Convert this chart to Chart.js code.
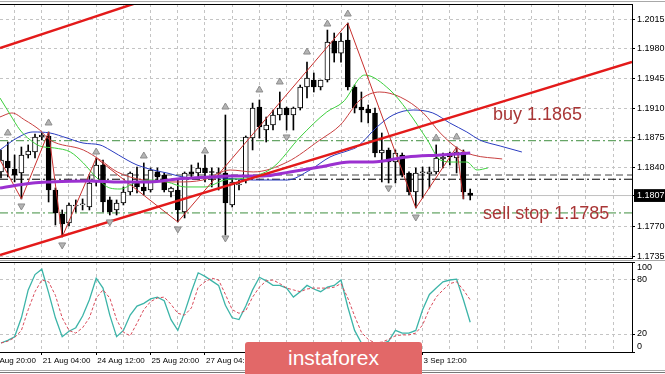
<!DOCTYPE html>
<html>
<head>
<meta charset="utf-8">
<script src="https://cdn.jsdelivr.net/npm/chart.js@4.4.1/dist/chart.umd.min.js"></script>
<style>
  html, body { margin: 0; padding: 0; background: #fff; }
  body { width: 665px; height: 374px; position: relative; overflow: hidden; }
  canvas { position: absolute; left: 0; }
  #priceChart { top: 0; }
  #stochChart { top: 258px; }
  .rule { position: absolute; left: 0; width: 665px; height: 1px; background: #a8a8a8; }
  #logo {
    position: absolute; left: 245px; top: 342px; width: 177px; height: 32px;
    background: #e26868; color: #fff; text-align: center;
    font: 21px "Liberation Sans", Arial, sans-serif; line-height: 32px;
    border-radius: 3px 3px 0 0;
  }
</style>
</head>
<body>
<div class="rule" style="top:1px"></div>
<div class="rule" style="top:260px"></div>
<div class="rule" style="top:370px"></div>
<div class="rule" style="top:372px;background:#777"></div>
<canvas id="priceChart" width="665" height="262"></canvas>
<canvas id="stochChart" width="665" height="116"></canvas>
<div id="logo">instaforex</div>
<script>
// H4 candles, index 0 = first visible bar
const opens = [1.18348, 1.18477, 1.18383, 1.18336, 1.18548, 1.18583, 1.1876, 1.18772, 1.18135, 1.17853,
  1.17747, 1.17947, 1.17959, 1.17935, 1.1823, 1.1843, 1.18018, 1.179, 1.17982, 1.18112,
  1.1823, 1.18171, 1.18135, 1.18348, 1.18312, 1.18112, 1.18135, 1.17876, 1.18348, 1.18336,
  1.18395, 1.18348, 1.18336, 1.18336, 1.17959, 1.18194, 1.18253, 1.18748, 1.19113, 1.18842,
  1.18901, 1.19019, 1.19101, 1.19019, 1.19101, 1.19349, 1.19431, 1.19349, 1.19431, 1.19891,
  1.19749, 1.19903, 1.19349, 1.19113, 1.1909, 1.19043, 1.18571, 1.18607, 1.18465, 1.18548,
  1.18336, 1.18112, 1.18336, 1.18324, 1.18348, 1.18501, 1.18571, 1.18512, 1.18583, 1.181];
const highs = [1.18607, 1.18701, 1.18548, 1.18642, 1.18666, 1.18795, 1.18807, 1.18819, 1.18159, 1.179,
  1.17982, 1.18018, 1.1803, 1.183, 1.18512, 1.18489, 1.18053, 1.18018, 1.18171, 1.18348,
  1.18406, 1.18454, 1.18395, 1.18395, 1.18336, 1.18171, 1.18253, 1.18348, 1.1843, 1.18454,
  1.18548, 1.18395, 1.18395, 1.19019, 1.18277, 1.18253, 1.18772, 1.1916, 1.19196, 1.18995,
  1.19078, 1.1929, 1.19113, 1.19113, 1.19372, 1.19643, 1.19514, 1.19431, 1.2002, 1.19985,
  1.19985, 1.20103, 1.19372, 1.1929, 1.19137, 1.19101, 1.18807, 1.1863, 1.18607, 1.18571,
  1.18348, 1.18395, 1.18406, 1.18406, 1.18666, 1.18571, 1.18583, 1.18642, 1.18607, 1.18147];
const lows = [1.18277, 1.18289, 1.1823, 1.1803, 1.18512, 1.18512, 1.18725, 1.17994, 1.17723, 1.17582,
  1.17711, 1.17876, 1.179, 1.179, 1.18183, 1.17876, 1.17841, 1.17841, 1.17959, 1.18077,
  1.181, 1.18077, 1.18112, 1.18253, 1.18112, 1.18053, 1.17759, 1.17806, 1.18289, 1.18289,
  1.1823, 1.18171, 1.18135, 1.17605, 1.17935, 1.18135, 1.18218, 1.18607, 1.18748, 1.18701,
  1.18842, 1.1896, 1.18842, 1.18842, 1.19078, 1.19219, 1.1929, 1.19314, 1.19408, 1.19643,
  1.19643, 1.19314, 1.19043, 1.18937, 1.18925, 1.18524, 1.1823, 1.18218, 1.18218, 1.18289,
  1.18077, 1.17923, 1.18041, 1.18159, 1.18324, 1.18395, 1.1843, 1.18336, 1.1803, 1.18018];
const closes = [1.18489, 1.18395, 1.18312, 1.18548, 1.18595, 1.1876, 1.18783, 1.18135, 1.17865, 1.17735,
  1.17959, 1.17959, 1.17971, 1.18218, 1.1843, 1.17994, 1.17876, 1.17982, 1.18112, 1.18336,
  1.18171, 1.18124, 1.18371, 1.18289, 1.18135, 1.18159, 1.179, 1.18336, 1.18324, 1.18395,
  1.18336, 1.18342, 1.1833, 1.17982, 1.1823, 1.18206, 1.1876, 1.19101, 1.18878, 1.18901,
  1.19019, 1.19101, 1.19019, 1.19101, 1.19349, 1.19455, 1.19349, 1.19431, 1.19879, 1.19749,
  1.19891, 1.19349, 1.19101, 1.19078, 1.19043, 1.18571, 1.18607, 1.18465, 1.18571, 1.18312,
  1.18112, 1.18336, 1.18348, 1.18348, 1.18512, 1.18524, 1.18524, 1.18583, 1.18112, 1.1807];

// Alligator lines (jaw / teeth / lips), read at bar positions
const jawX = [-0.15, 2.35, 4.7, 7.2, 9.7, 12.06, 14.56, 16.03, 18.53, 20, 22.35, 24.4, 26.76, 29.7, 32.2,
  37.06, 42.06, 45.44, 48.38, 51.32, 52.35, 55.3, 57.65, 60.6, 63.5, 66, 68.5, 70.4, 73.4, 76.6];
const jawY = [1.18607, 1.18748, 1.18819, 1.18807, 1.18748, 1.18689, 1.18666, 1.18607, 1.18489, 1.1843,
  1.18371, 1.18336, 1.18289, 1.18277, 1.18277, 1.18253, 1.18253, 1.18371, 1.18524, 1.18607,
  1.18642, 1.18878, 1.19019, 1.19078, 1.19043, 1.18925, 1.18819, 1.18725, 1.18654, 1.18583];
const teethX = [-0.15, 1.6, 3.5, 5.7, 7.2, 12.1, 14.6, 17.1, 20.9, 25.9, 29.7, 33.7, 37.1, 42.1, 46.9,
  49.9, 52.8, 55.7, 58.7, 62.1, 64.6, 67.1, 69.4, 73.7];
const teethY = [1.18996, 1.19043, 1.1896, 1.18842, 1.18725, 1.18607, 1.18489, 1.18348, 1.18253, 1.1823,
  1.18253, 1.18371, 1.18348, 1.18465, 1.18725, 1.18901, 1.19196, 1.1929, 1.19231, 1.19043,
  1.18807, 1.1863, 1.18548, 1.18501];
const lipsX = [-0.15, 1.3, 2.8, 4.3, 5.7, 7.9, 10.2, 12.1, 14.1, 16.0, 17.5, 19.7, 21.9, 24.4, 27.1, 30,
  32.9, 35.9, 39.9, 44, 47.9, 50.3, 53.5, 57.2, 59.7, 62.7, 64.6, 66.5, 68.5, 70, 71.6];
const lipsY = [1.19219, 1.19031, 1.18842, 1.18725, 1.18654, 1.1863, 1.18583, 1.18454, 1.18277, 1.18159,
  1.18147, 1.18218, 1.18253, 1.1823, 1.18171, 1.18171, 1.18253, 1.18277, 1.18395, 1.1876,
  1.19054, 1.19172, 1.1949, 1.19314, 1.19078, 1.18725, 1.18489, 1.18465, 1.18465, 1.18371, 1.18395];

// slow moving average (thick purple)
const maX = [-0.15, 4.7, 7.2, 13.1, 17.5, 21.9, 25.9, 30.7, 33.7, 38.5, 42.5, 46.9, 51.3, 54.7, 59.7, 64.6, 69];
const maY = [1.18159, 1.18218, 1.1823, 1.18242, 1.1823, 1.1823, 1.18265, 1.18289, 1.183, 1.183,
  1.18348, 1.18406, 1.18465, 1.18465, 1.18524, 1.18548, 1.18571];

// ZigZag swing points
const zzX = [-0.15, 3, 7, 9, 14, 26, 51, 61, 67, 68];
const zzY = [1.18489, 1.1803, 1.18819, 1.17582, 1.18512, 1.17759, 1.20103, 1.17923, 1.18642, 1.1803];

// fractal arrows
const fracUpX = [1, 7, 14, 21, 30, 33, 38, 41, 45, 48, 51, 64, 67];
const fracUpY = [1.18807, 1.18925, 1.18583, 1.18536, 1.18595, 1.19113, 1.19314, 1.19408, 1.19761, 1.20091, 1.20209, 1.18748, 1.1876];
const fracDnX = [3, 9, 16, 26, 33, 42, 57, 61];
const fracDnY = [1.17947, 1.17488, 1.17759, 1.17676, 1.1757, 1.1876, 1.18159, 1.17817];

// channel lines
const trendLowX = [-0.15, 92.8];
const trendLowY = [1.1737, 1.19643];
const trendHighX = [-0.15, 25];
const trendHighY = [1.19808, 1.20474];

// horizontal levels and current price
const levelPrices = [1.18716, 1.17865, 1.18312, 1.18262];
const bidPrice = 1.1807;

const noteTexts = ['buy 1.1865', 'sell stop 1.1785'];
const noteX = [72.35, 70.9];
const noteY = [1.19019, 1.17853];

const priceTicks = [1.1735, 1.1770, 1.1807, 1.1840, 1.1875, 1.1910, 1.1945, 1.1980, 1.2015];
const gridIdx = [2, 6, 10, 14, 18, 22, 26, 30, 34, 38, 42, 46, 50, 54, 58, 62, 66, 70, 74, 78, 82, 86, 90];
const timeIdx = [-2, 6, 14, 22, 30, 38, 46, 54, 62];
const timeLabels = ['19 Aug 20:00', '21 Aug 04:00', '24 Aug 12:00', '25 Aug 20:00', '27 Aug 04:00',
  '28 Aug 12:00', '31 Aug 20:00', '2 Sep 04:00', '3 Sep 12:00'];

// Stochastic %K and %D
const stochMain = [10, 13, 17, 38, 69, 86, 92, 66, 38, 17,
  23, 27, 40, 58, 82, 71, 41, 17, 24, 41,
  51, 54, 59, 61, 57, 36, 24, 44, 67, 88,
  84, 79, 74, 52, 38, 36, 51, 69, 83, 79,
  74, 74, 71, 61, 67, 74, 70, 67, 72, 74,
  80, 50, 24, 10, 6, 7, 9, 12, 24, 21,
  21, 24, 47, 64, 71, 78, 80, 81, 58, 33];
const stochSignal = [10, 12, 16, 24, 47, 67, 80, 78, 63, 38,
  24, 21, 27, 38, 60, 69, 60, 36, 22, 18,
  32, 47, 56, 60, 61, 53, 43, 41, 49, 72,
  78, 82, 80, 64, 47, 43, 46, 61, 72, 79,
  80, 76, 71, 69, 67, 70, 71, 71, 71, 72,
  76, 60, 40, 22, 14, 10, 11, 14, 18, 19,
  19, 21, 30, 48, 61, 69, 76, 78, 69, 58];
const stochTicks = [0, 20, 80, 100];

const xMin = -0.147, xMax = 92.794;
const FONT = '"Liberation Sans", Arial, sans-serif';
Chart.defaults.font.family = FONT;

const pts = (xs, ys) => xs.map((v, k) => ({ x: v, y: ys[k] }));
const flat = price => [{ x: xMin, y: price }, { x: xMax, y: price }];

function fixBox(size) {
  return scale => {
    if (scale.isHorizontal()) scale.height = size; else scale.width = size;
    scale.paddingTop = scale.paddingBottom = scale.paddingLeft = scale.paddingRight = 0;
  };
}

const framePlugin = {
  id: 'frame',
  afterDraw(chart) {
    const { ctx, chartArea: a } = chart;
    ctx.save();
    ctx.strokeStyle = '#000';
    ctx.lineWidth = 1;
    ctx.beginPath();
    ctx.moveTo(a.left, Math.round(a.top) + 0.5);
    ctx.lineTo(a.right, Math.round(a.top) + 0.5);
    ctx.stroke();
    ctx.restore();
  }
};

const notePlugin = {
  id: 'notes',
  afterDatasetsDraw(chart) {
    const { ctx, scales: { x, y } } = chart;
    ctx.save();
    ctx.font = '18px ' + FONT;
    ctx.fillStyle = '#a93636';
    ctx.textBaseline = 'middle';
    noteTexts.forEach((t, k) => ctx.fillText(t, x.getPixelForValue(noteX[k]), y.getPixelForValue(noteY[k])));
    ctx.restore();
  }
};

const idx = opens.map((_, i) => i);
const lineDs = (data, color, width, order, extra) => Object.assign({
  type: 'line', data, borderColor: color, borderWidth: width, pointRadius: 0,
  fill: false, order, cubicInterpolationMode: 'monotone'
}, extra || {});

new Chart(document.getElementById('priceChart'), {
  type: 'bar',
  data: {
    datasets: [
      lineDs(flat(levelPrices[0]), '#3f8f3f', 1, 30, { borderDash: [8, 3, 2, 3] }),
      lineDs(flat(levelPrices[1]), '#3f8f3f', 1, 30, { borderDash: [8, 3, 2, 3] }),
      lineDs(flat(levelPrices[2]), '#444', 1, 30, { borderDash: [7, 4] }),
      lineDs(flat(levelPrices[3]), '#000', 1, 30, { borderDash: [8, 3, 2, 3] }),
      lineDs(flat(bidPrice), '#c0c0c0', 1, 30),
      {
        type: 'bar', data: idx.map(i => ({ x: i, y: [lows[i], highs[i]] })),
        backgroundColor: '#000', barThickness: 1, grouped: false, order: 20
      },
      {
        type: 'bar', data: idx.map(i => ({ x: i, y: [opens[i], closes[i]] })),
        backgroundColor: idx.map(i => closes[i] >= opens[i] ? '#fff' : '#000'),
        borderColor: '#000', borderWidth: 1, borderSkipped: false, minBarLength: 1,
        barThickness: 5, grouped: false, order: 19
      },
      lineDs(pts(jawX, jawY), '#2a3cc0', 1, 12),
      lineDs(pts(teethX, teethY), '#c84040', 1, 11),
      lineDs(pts(lipsX, lipsY), '#3ccf3c', 1, 10),
      lineDs(pts(zzX, zzY), '#c8302e', 1, 9, { cubicInterpolationMode: 'default', tension: 0 }),
      lineDs(pts(maX, maY), '#9b30d0', 3, 8),
      lineDs(pts(trendLowX, trendLowY), '#e31a1a', 2.5, 7),
      lineDs(pts(trendHighX, trendHighY), '#e31a1a', 2.5, 7),
      {
        type: 'scatter', data: pts(fracUpX, fracUpY), pointStyle: 'triangle', pointRadius: 4,
        backgroundColor: '#b4b4b4', borderColor: '#8c8c8c', borderWidth: 1, order: 6
      },
      {
        type: 'scatter', data: pts(fracDnX, fracDnY), pointStyle: 'triangle', pointRadius: 4, rotation: 180,
        backgroundColor: '#b4b4b4', borderColor: '#8c8c8c', borderWidth: 1, order: 6
      }
    ]
  },
  options: {
    responsive: false,
    animation: false,
    devicePixelRatio: 1,
    layout: { autoPadding: false, padding: { top: 4, left: 0, right: 0, bottom: 0 } },
    plugins: { legend: { display: false }, tooltip: { enabled: false } },
    scales: {
      x: {
        type: 'linear', min: xMin, max: xMax, offset: false,
        afterBuildTicks: s => { s.ticks = gridIdx.map(v => ({ value: v })); },
        afterFit: fixBox(4),
        ticks: { display: false },
        grid: { color: '#c4c4c4', drawTicks: false, offset: false },
        border: { display: true, color: '#000', dash: [3, 3] }
      },
      y: {
        type: 'linear', position: 'right', min: 1.17334, max: 1.20327,
        afterBuildTicks: s => { s.ticks = priceTicks.map(v => ({ value: v })); },
        afterFit: fixBox(33),
        ticks: {
          font: { size: 9 }, padding: 2,
          color: c => (c.tick && c.tick.value === bidPrice) ? '#fff' : '#000',
          showLabelBackdrop: true,
          backdropColor: c => (c.tick && c.tick.value === bidPrice) ? '#000' : 'rgba(0,0,0,0)',
          backdropPadding: { x: 3, y: 1 },
          callback: v => v.toFixed(4)
        },
        grid: {
          color: c => (c.tick && c.tick.value === bidPrice) ? 'rgba(0,0,0,0)' : '#c4c4c4',
          tickColor: '#000', tickLength: 3
        },
        border: { display: true, color: '#000', dash: [3, 3] }
      }
    }
  },
  plugins: [framePlugin, notePlugin]
});

new Chart(document.getElementById('stochChart'), {
  type: 'line',
  data: {
    datasets: [
      {
        data: idx.map(i => ({ x: i, y: stochSignal[i] })), borderColor: '#d94a5a', borderWidth: 1,
        borderDash: [3, 2], pointRadius: 0, tension: 0
      },
      {
        data: idx.map(i => ({ x: i, y: stochMain[i] })), borderColor: '#3cb4a8', borderWidth: 1.3,
        pointRadius: 0, tension: 0
      }
    ]
  },
  options: {
    responsive: false,
    animation: false,
    devicePixelRatio: 1,
    layout: { autoPadding: false, padding: { top: 4, left: 0, right: 0, bottom: 0 } },
    plugins: { legend: { display: false }, tooltip: { enabled: false } },
    scales: {
      x: {
        type: 'linear', min: xMin, max: xMax,
        afterBuildTicks: s => { s.ticks = [-2].concat(gridIdx).map(v => ({ value: v })); },
        afterFit: fixBox(22),
        ticks: {
          autoSkip: false, maxRotation: 0, align: 'start', labelOffset: 1, padding: 1,
          font: { size: 8 }, color: '#000',
          callback: v => { const k = timeIdx.indexOf(v); return k >= 0 ? timeLabels[k] : ''; }
        },
        grid: {
          color: '#c4c4c4', tickLength: 3,
          tickColor: c => (c.tick && timeIdx.includes(c.tick.value)) ? '#000' : 'rgba(0,0,0,0)'
        },
        border: { display: true, color: '#000', dash: [3, 3] }
      },
      y: {
        type: 'linear', position: 'right', min: 0, max: 100,
        afterBuildTicks: s => { s.ticks = stochTicks.map(v => ({ value: v })); },
        afterFit: fixBox(33),
        ticks: {
          font: { size: 9 }, padding: 2, color: '#000',
          callback: v => v === 100 ? ['', '100'] : (v === 0 ? ['0', ''] : String(v))
        },
        grid: {
          color: c => (c.tick && (c.tick.value === 0 || c.tick.value === 100)) ? 'rgba(0,0,0,0)' : '#c4c4c4',
          tickColor: '#000', tickLength: 3
        },
        border: { display: true, color: '#000', dash: [3, 3] }
      }
    }
  },
  plugins: [framePlugin]
});
</script>
</body>
</html>
